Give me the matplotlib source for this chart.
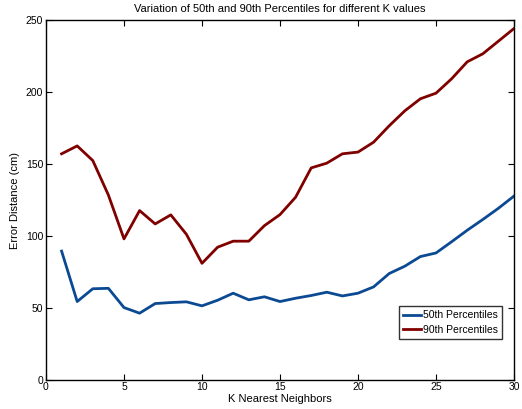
import matplotlib
matplotlib.use("Agg")
import matplotlib.pyplot as plt

k_values = list(range(1, 31))
p50 = [89.5, 54.4, 63.3, 63.6, 50.2, 46.3, 53.0, 53.7, 54.2, 51.4,
       55.3, 60.2, 55.6, 57.7, 54.4, 56.7, 58.6, 60.9, 58.3, 60.2,
       64.6, 73.9, 79.0, 85.7, 88.2, 96.0, 104.0, 111.5, 119.3, 127.8]
p90 = [157.2, 162.7, 152.5, 128.5, 98.0, 117.7, 108.4, 114.7, 101.2, 81.0,
       92.2, 96.4, 96.4, 107.2, 114.9, 127.0, 147.4, 150.7, 157.2, 158.4,
       165.3, 176.7, 187.1, 195.5, 199.4, 209.4, 221.2, 226.8, 235.6, 244.4]

plt.rcParams['font.family'] = ['Liberation Sans', 'DejaVu Sans']

fig = plt.figure(figsize=(5.22, 4.09), dpi=100)
ax = fig.add_axes([0.0881, 0.0716, 0.8966, 0.8784])

ax.plot(k_values, p50, color='#0b4a93', lw=2.0, label='50th Percentiles')
ax.plot(k_values, p90, color='#800000', lw=2.0, label='90th Percentiles')

ax.set_xlim(0, 30)
ax.set_ylim(0, 250)
ax.set_xticks(range(0, 31, 5))
ax.set_yticks(range(0, 251, 50))
ax.tick_params(direction='in', top=True, right=True, labelsize=7.5,
               length=4, width=0.8, pad=2)
for s in ax.spines.values():
    s.set_linewidth(1.0)

ax.set_xlabel('K Nearest Neighbors', fontsize=8, labelpad=1)
ax.set_ylabel('Error Distance (cm)', fontsize=8, labelpad=4)
ax.set_title('Variation of 50th and 90th Percentiles for different K values',
             fontsize=8, pad=6)

leg = ax.legend(loc='lower right', bbox_to_anchor=(0.9737, 0.1125),
                fontsize=7.5, frameon=True, fancybox=False,
                handlelength=1.75, handletextpad=0.15, borderpad=0.4,
                labelspacing=0.45, borderaxespad=0)
leg.get_frame().set_edgecolor('black')
leg.get_frame().set_linewidth(1.0)

fig.savefig('out.png', dpi=100)
